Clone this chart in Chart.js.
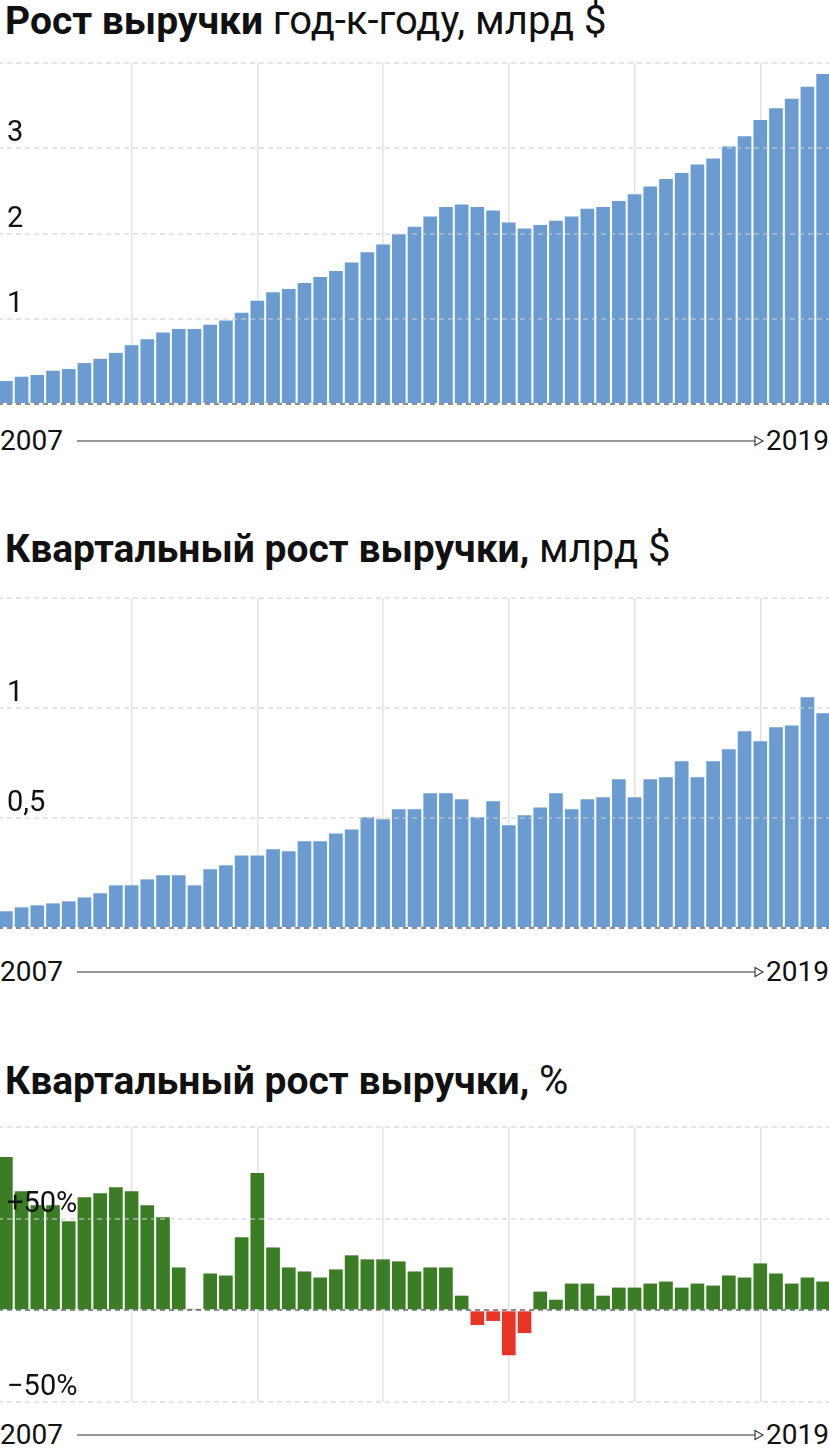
<!DOCTYPE html>
<html lang="ru">
<head>
<meta charset="utf-8">
<script src="https://cdn.jsdelivr.net/npm/chart.js@4.4.0/dist/chart.umd.min.js"></script>
<style>
  body { margin: 0; width: 829px; height: 1453px; overflow: hidden; background: #fff; position: relative;
         font-family: Roboto, "Noto Sans", sans-serif; color: #111; }
  .title { position: absolute; left: 5px; font-size: 39px; line-height: 40px; white-space: nowrap; }
  .title b { font-weight: 700; }
  .title span { font-weight: 400; font-size: 40px; }
  canvas { position: absolute; left: -2px; }
  .axis { position: absolute; left: 0; width: 829px; height: 30px; font-size: 28px; line-height: 30px; }
  .axis .from { position: absolute; left: 0; top: 0; }
  .axis .to { position: absolute; right: 0; top: 0; }
  .axis svg { position: absolute; left: 77px; top: 8px; }
</style>
</head>
<body>

<div class="title" style="top:1px"><b>Рост выручки</b> <span>год-к-году, млрд $</span></div>
<canvas id="yoyChart" width="833" height="345" style="top:61px"></canvas>
<div class="axis" style="top:426px">
  <span class="from">2007</span>
  <svg width="690" height="14"><line x1="0" y1="7" x2="678" y2="7" stroke="#333" stroke-width="1.1"/><polygon points="678,2.5 686,7 678,11.5" fill="#fff" stroke="#333" stroke-width="1.1"/></svg>
  <span class="to">2019</span>
</div>

<div class="title" style="top:529px"><b>Квартальный рост выручки,</b> <span>млрд $</span></div>
<canvas id="qoqChart" width="833" height="334" style="top:596px"></canvas>
<div class="axis" style="top:957px">
  <span class="from">2007</span>
  <svg width="690" height="14"><line x1="0" y1="7" x2="678" y2="7" stroke="#333" stroke-width="1.1"/><polygon points="678,2.5 686,7 678,11.5" fill="#fff" stroke="#333" stroke-width="1.1"/></svg>
  <span class="to">2019</span>
</div>

<div class="title" style="top:1061px"><b>Квартальный рост выручки,</b> <span>%</span></div>
<canvas id="pctChart" width="833" height="279" style="top:1125px"></canvas>
<div class="axis" style="top:1420px">
  <span class="from">2007</span>
  <svg width="690" height="14"><line x1="0" y1="7" x2="678" y2="7" stroke="#333" stroke-width="1.1"/><polygon points="678,2.5 686,7 678,11.5" fill="#fff" stroke="#333" stroke-width="1.1"/></svg>
  <span class="to">2019</span>
</div>

<script>
// Кварталы: IV кв. 2006 — IV кв. 2019
const years = [2007, 2008, 2009, 2010, 2011, 2012, 2013, 2014, 2015, 2016, 2017, 2018, 2019];
const quarters = ['IV 2006'];
years.forEach(y => ['I', 'II', 'III', 'IV'].forEach(q => quarters.push(q + ' ' + y)));

// Рост выручки год-к-году, млрд $
const yoyRevenue = [0.27, 0.32, 0.34, 0.39, 0.41, 0.48, 0.53, 0.60, 0.69, 0.76,
                    0.84, 0.88, 0.88, 0.93, 0.98, 1.07, 1.21, 1.31, 1.35, 1.42,
                    1.49, 1.56, 1.66, 1.78, 1.87, 1.99, 2.08, 2.20, 2.31, 2.34,
                    2.31, 2.27, 2.13, 2.06, 2.10, 2.15, 2.20, 2.29, 2.31, 2.38,
                    2.46, 2.55, 2.64, 2.71, 2.81, 2.88, 3.02, 3.14, 3.33, 3.47,
                    3.58, 3.72, 3.87];

// Квартальный рост выручки, млрд $
const qoqRevenue = [0.076, 0.094, 0.103, 0.112, 0.121, 0.139, 0.158, 0.194, 0.194, 0.221,
                    0.240, 0.240, 0.194, 0.267, 0.285, 0.330, 0.330, 0.358, 0.349, 0.394,
                    0.394, 0.430, 0.448, 0.503, 0.494, 0.540, 0.540, 0.612, 0.612, 0.585,
                    0.503, 0.576, 0.467, 0.512, 0.548, 0.612, 0.540, 0.585, 0.594, 0.676,
                    0.594, 0.676, 0.685, 0.758, 0.685, 0.758, 0.812, 0.894, 0.849, 0.912,
                    0.921, 1.049, 0.976];

// Квартальный рост выручки, %
const qoqPercent = [83.6, 65.0, 57.3, 57.3, 48.6, 61.7, 63.9, 67.2, 65.0, 57.3,
                    50.8, 23.4, 0.8, 20.1, 19.0, 39.8, 74.9, 34.3, 23.4, 21.2,
                    17.9, 22.3, 30.0, 27.8, 27.8, 26.7, 21.2, 23.4, 23.4, 8.0,
                    -8.0, -5.8, -24.5, -12.4, 10.2, 5.8, 14.6, 14.6, 8.0, 12.4,
                    12.4, 14.6, 15.7, 12.4, 14.6, 13.5, 19.0, 17.9, 25.6, 20.1,
                    14.6, 17.9, 15.7];

// Подписи шкалы Y
const yoyTicks = [1, 2, 3];
const yoyTickText = ['1', '2', '3'];
const qoqTicks = [0.5, 1];
const qoqTickText = ['0,5', '1'];
const pctTicks = [-50, 50];
const pctTickText = ['−50%', '+50%'];

const blue = '#6a9cd1';
const green = '#3a7d24';
const red = '#e83425';

// Подписи рисуем поверх столбиков, над линией сетки
const tickLabels = {
    id: 'tickLabels',
    afterDraw(chart, args, opts) {
        const ctx = chart.ctx;
        const y = chart.scales.y;
        ctx.save();
        ctx.font = '29px Roboto, "Noto Sans", sans-serif';
        ctx.fillStyle = '#111';
        ctx.textAlign = 'left';
        ctx.textBaseline = 'alphabetic';
        opts.values.forEach((v, i) => {
            ctx.fillText(opts.texts[i], chart.chartArea.left + 9, y.getPixelForValue(v) - 7);
        });
        ctx.restore();
    }
};

function makeChart(id, values, colors, min, max, step, tickValues, tickTexts) {
    const ctx = document.getElementById(id).getContext('2d');
    return new Chart(ctx, {
        type: 'bar',
        data: {
            labels: quarters,
            datasets: [{
                data: values,
                backgroundColor: colors,
                barPercentage: 0.87,
                categoryPercentage: 1
            }]
        },
        options: {
            responsive: false,
            animation: false,
            layout: { padding: { top: 2, bottom: 2, left: 0, right: 0 } },
            plugins: {
                legend: { display: false },
                tooltip: { enabled: false },
                tickLabels: { values: tickValues, texts: tickTexts }
            },
            scales: {
                x: {
                    ticks: { display: false, autoSkip: false },
                    border: { display: false },
                    grid: {
                        offset: false,
                        drawTicks: false,
                        lineWidth: 1.5,
                        color: c => (c.index > 0 && c.index % 8 === 0) ? '#e2e2e2' : 'rgba(0,0,0,0)'
                    }
                },
                y: {
                    min: min,
                    max: max,
                    ticks: { display: false, stepSize: step },
                    border: { display: false, dash: [5, 4] },
                    grid: {
                        z: 1,
                        drawTicks: false,
                        lineWidth: 2,
                        color: c => c.tick && c.tick.value === 0 ? 'rgba(50,50,50,0.55)' : 'rgba(205,205,205,0.55)'
                    }
                }
            }
        },
        plugins: [tickLabels]
    });
}

makeChart('yoyChart', yoyRevenue, blue, 0, 4, 1, yoyTicks, yoyTickText);
makeChart('qoqChart', qoqRevenue, blue, 0, 1.5, 0.5, qoqTicks, qoqTickText);
makeChart('pctChart', qoqPercent, qoqPercent.map(v => v < 0 ? red : green), -50, 100, 50, pctTicks, pctTickText);
</script>
</body>
</html>
